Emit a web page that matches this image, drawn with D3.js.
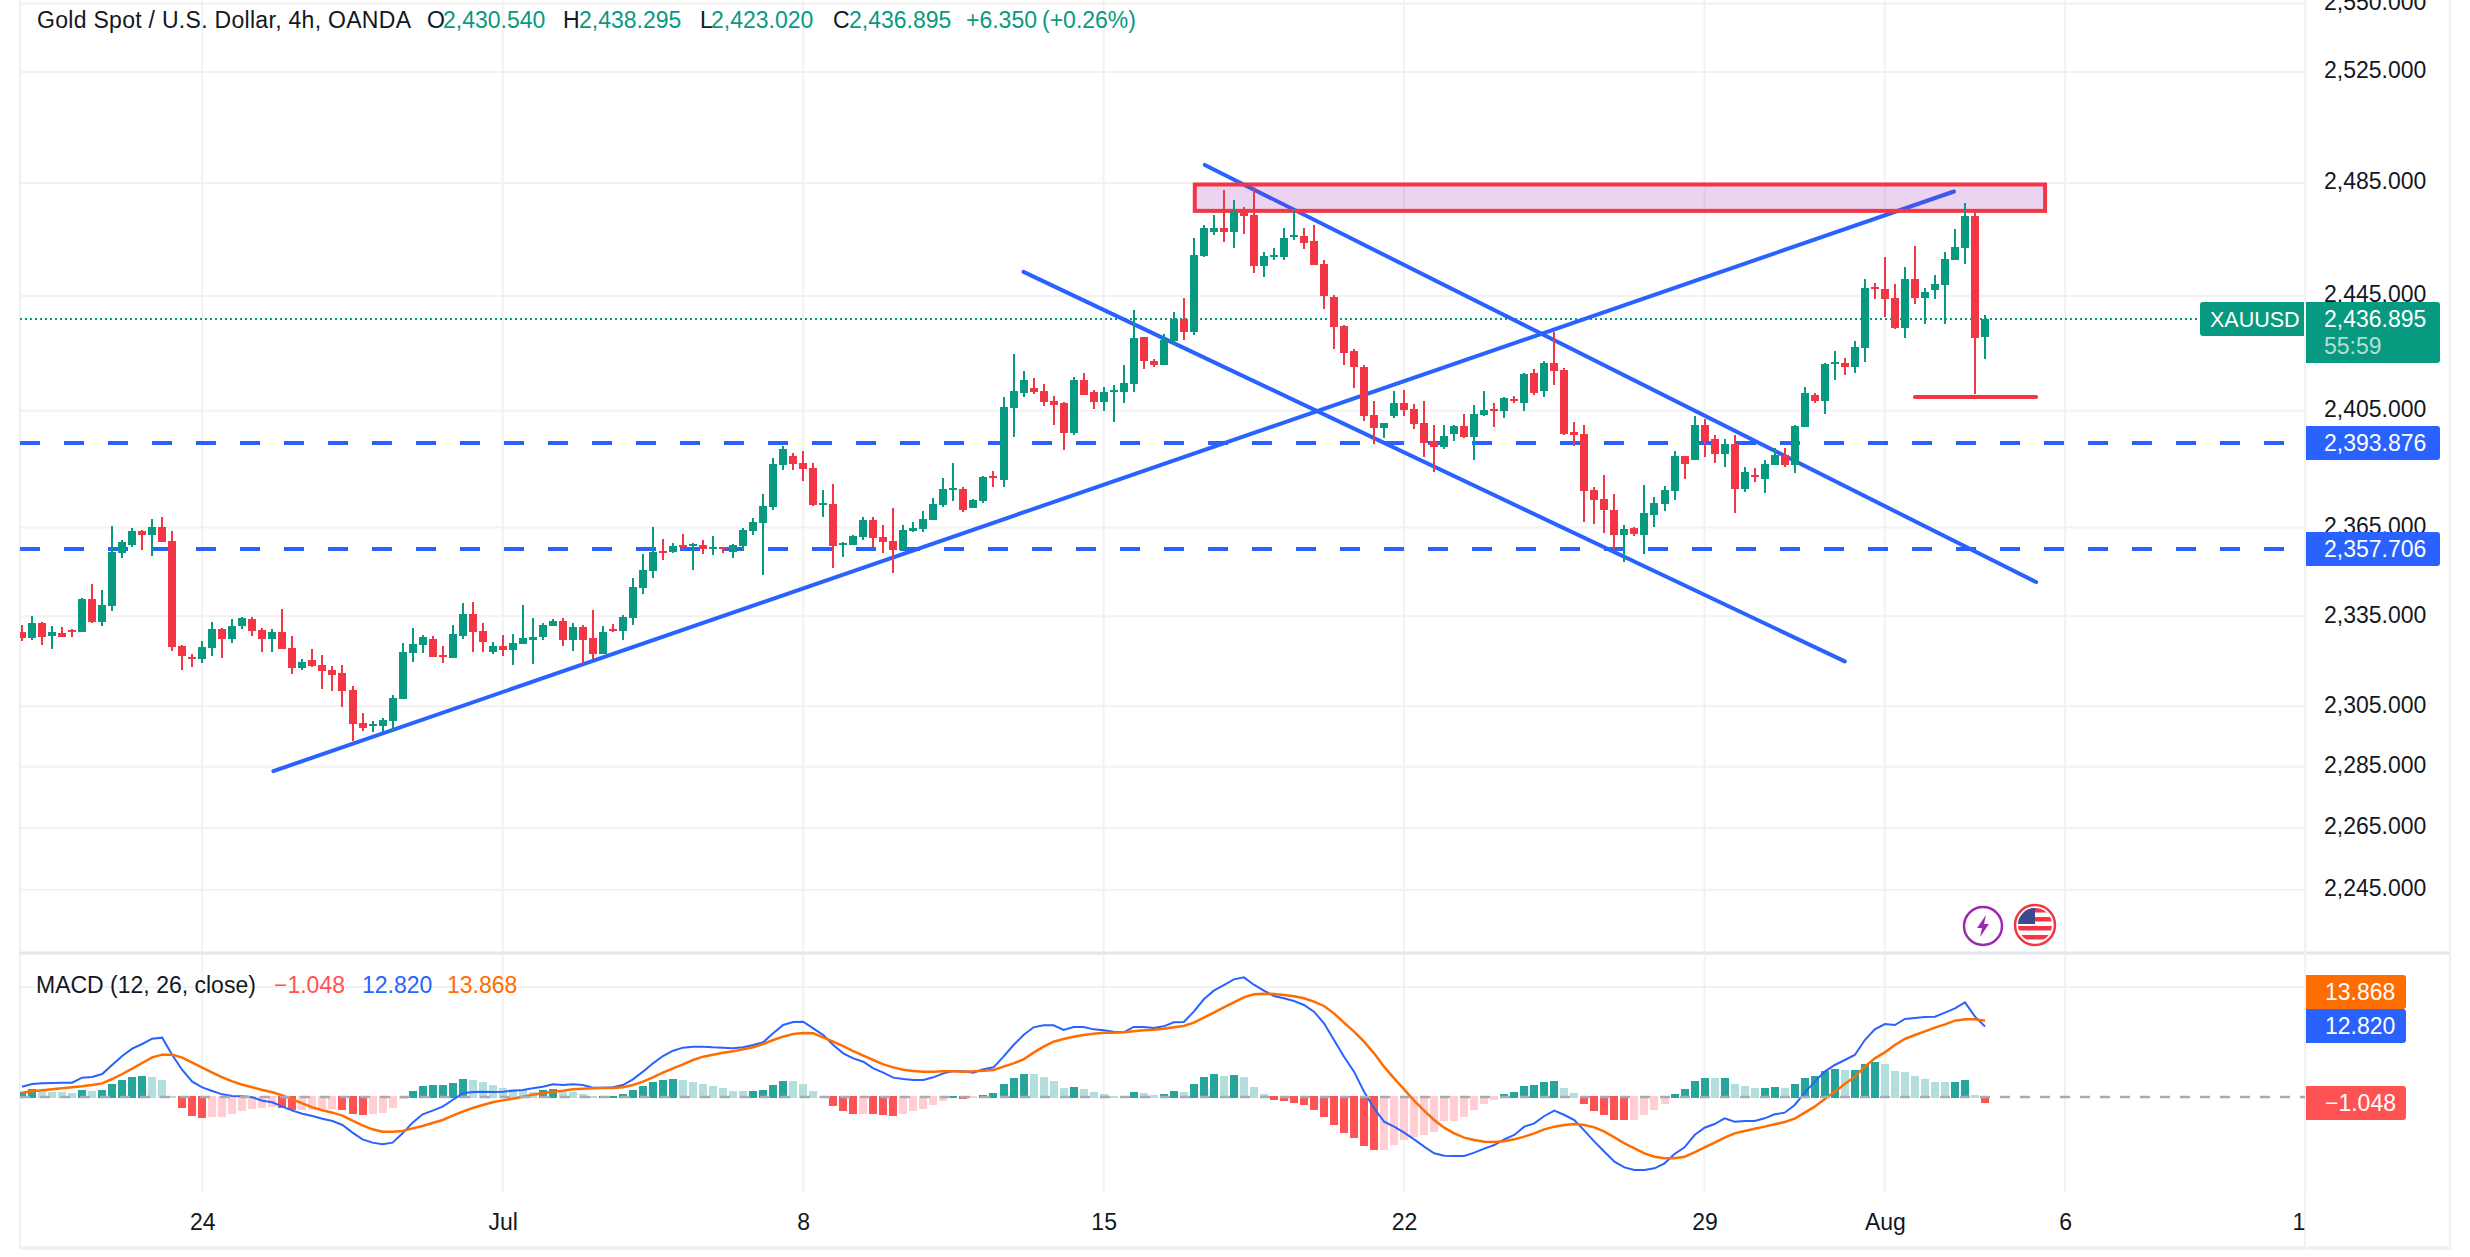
<!DOCTYPE html>
<html><head><meta charset="utf-8">
<script src="https://cdn.jsdelivr.net/npm/d3@7"></script>
<style>html,body{margin:0;padding:0;background:#fff;overflow:hidden}text{font-family:"Liberation Sans",Arial,sans-serif}</style>
</head><body><svg id="c" width="2470" height="1257"></svg>
<script>
const opens=[2329.7,2327.7,2332.7,2328.4,2329.4,2330.4,2329.7,2340.8,2333.1,2338.4,
2356.2,2359.2,2363.9,2362.5,2365.2,2360.5,2325.0,2321.3,2320.7,2324.4,
2330.7,2327.4,2331.7,2334.1,2330.4,2327.4,2329.7,2324.4,2317.6,2320.3,
2318.6,2317.0,2316.0,2310.3,2299.5,2298.5,2298.5,2300.2,2307.3,2322.7,
2325.3,2327.4,2322.0,2321.0,2328.4,2335.7,2330.0,2323.0,2325.0,2323.7,
2325.7,2327.2,2327.9,2331.6,2333.3,2326.9,2331.3,2327.6,2322.5,2330.6,
2329.9,2334.3,2344.4,2350.2,2356.9,2356.6,2358.9,2358.6,2358.9,2357.6,
2358.3,2356.6,2358.6,2363.7,2366.4,2371.8,2386.2,2389.3,2386.9,2385.2,
2372.5,2372.9,2358.9,2358.9,2361.6,2367.4,2361.6,2360.3,2357.2,2363.7,
2364.3,2367.4,2372.5,2377.6,2378,2371.5,2373.9,2382.4,2381.1,2406.1,
2411.3,2413,2411.9,2408.4,2407.7,2397.4,2415.8,2411.6,2408,2411.6,
2411.6,2414.4,2430.5,2422.1,2421,2429.1,2436.8,2432.3,2459.2,2467.7,
2469.1,2467.7,2474.7,2473.7,2455.6,2458.8,2458.8,2465.9,2466.2,2464.5,
2456.3,2444.5,2434.4,2425.6,2420.3,2403.5,2399.1,2403.2,2407.7,2405.6,
2400.8,2394.3,2392.6,2397,2399.8,2396,2403.5,2405.6,2404.9,2409.1,
2407.7,2418,2411.7,2421.5,2419,2397.8,2397.1,2377.6,2374.6,2371.1,
2362.3,2364.7,2362.3,2369.4,2372.9,2377.3,2389.3,2387.9,2400.2,2395.1,
2390,2393.7,2378,2382.8,2381.4,2386.2,2389.6,2386.2,2399.5,2410.6,
2408.5,2421.1,2421.5,2420.1,2426.8,2448.2,2447.5,2444.3,2433.8,2451,
2444.3,2447.1,2448.9,2457.7,2462,2473.3,2430.54];
const highs=[2332,2335.1,2333.1,2331.7,2331.4,2330.7,2341.1,2345.8,2343.8,2365.6,
2360.9,2364.9,2364.2,2367.9,2368.6,2363.9,2325.3,2322.3,2326.7,2333.1,
2331,2334.1,2334.7,2334.7,2331,2330.7,2337.4,2328.4,2320.7,2324,
2322,2318.3,2318.6,2311.6,2302.9,2300.2,2301.2,2308.6,2326,2331,
2328.7,2328.4,2325,2332,2339.4,2339.8,2332.7,2326.4,2328.7,2329,
2338.8,2334.3,2332.6,2334,2334.3,2332.6,2332,2337,2331.6,2332.3,
2335.3,2347.8,2355.9,2365,2361,2359.6,2362.6,2359.6,2360.6,2362,
2358.3,2359.3,2364.7,2368.1,2376.3,2388.6,2393,2390.3,2391,2386.9,
2377.6,2379.7,2359.9,2362.3,2368.7,2368.4,2365.7,2371.5,2365.7,2366.7,
2370.5,2374.9,2381.7,2386.9,2378.7,2374.6,2382.4,2384.1,2409.9,2424.7,
2418.7,2416.5,2414.4,2410.1,2408,2416.8,2418.2,2412.3,2413.3,2414,
2421,2440,2430.5,2422.8,2431.6,2439.3,2444.2,2465.5,2470.1,2473.7,
2482.5,2479,2476.5,2483.7,2460.6,2462,2469.1,2475.4,2469.1,2470.1,
2457.7,2445.4,2434.7,2426.3,2421,2408.4,2400.8,2411.9,2412.3,2407.3,
2408.4,2400.1,2400.1,2400.1,2403.9,2407,2411.9,2407.7,2409.8,2410.1,
2418.1,2419.4,2422.2,2432.4,2419.7,2401.2,2400.2,2378.7,2382.8,2376.3,
2365.7,2365.3,2379.4,2375.2,2379,2391,2389.3,2403.3,2402.3,2396.5,
2395.4,2396.8,2385.5,2385.2,2388.2,2392,2392.3,2400.2,2413.1,2411,
2421.5,2425.7,2423.3,2429.2,2451,2449.6,2458.8,2449.2,2455.3,2462.7,
2447.8,2452.4,2460.6,2468.7,2477.9,2474.7,2438.295];
const lows=[2326.7,2327,2325.3,2324,2328,2328,2329.7,2332.7,2331.7,2336.8,
2354.8,2358.2,2357.2,2355.2,2360.2,2323.3,2317,2318,2319.3,2321.7,
2321,2326,2330.7,2328.4,2323,2323,2324,2315.6,2317,2318,
2310.6,2310,2304.6,2293.5,2296.9,2296.5,2296.5,2296.5,2307.3,2319.7,
2322.7,2321.3,2319.3,2321,2327.4,2323,2323,2322.3,2321.7,2318.6,
2325.7,2319.1,2326.9,2331.6,2324.9,2323.2,2319.1,2320.8,2322.2,2329.6,
2326.9,2332,2342.4,2347.8,2353.9,2356.2,2357.2,2350.5,2355.9,2355.6,
2356.2,2354.5,2356.9,2362.3,2348.8,2370.8,2384.5,2384.5,2380.7,2372.2,
2368.4,2351.2,2354.9,2358.9,2360.6,2358.3,2356.2,2349.5,2356.9,2363.3,
2363.3,2367.4,2371.8,2373.9,2370.1,2371.5,2373.2,2378.7,2378.7,2395.8,
2409.9,2410.9,2406.6,2400.1,2391.6,2396.7,2410.5,2405.6,2404.9,2401.1,
2407.7,2411.6,2419.6,2420,2421,2428,2429.5,2431.2,2458.8,2466.6,
2464.1,2462,2466.9,2453.1,2451.7,2457.7,2457.7,2464.8,2461.6,2456,
2440.3,2426.3,2420.7,2413,2401.5,2393.7,2395.7,2402.5,2403.2,2398.8,
2388.9,2383.8,2391.9,2394.7,2395.7,2388.2,2403.2,2399.4,2402.5,2407.7,
2404.9,2410.6,2409.9,2413.8,2396.8,2393,2366.7,2366,2363,2357.6,
2353.2,2362,2355.9,2365.3,2370.5,2374.2,2381.4,2387.9,2388.9,2386.9,
2385.5,2369.8,2377,2380.4,2376.6,2386.2,2385.8,2383.5,2399.5,2407.8,
2404,2415.5,2417.3,2418,2421.8,2444,2437.6,2433.4,2430.3,2442.2,
2435.2,2444,2435.2,2457.7,2456.3,2410.9,2423.02];
const closes=[2327.7,2332.7,2328,2329.7,2328,2329.7,2340.8,2333.1,2338.8,2356.5,
2360.2,2363.9,2362.5,2365.2,2360.2,2324.7,2321.7,2320.7,2324.7,2330.7,
2327.4,2331.7,2334.4,2330,2327.4,2329.7,2324,2317.6,2319.7,2318.3,
2316.6,2315.3,2310,2299.2,2297.9,2299.1,2300.6,2307.6,2323,2325.7,
2328,2321.3,2321.3,2329,2335.7,2329.7,2326.4,2325,2323.7,2326,
2327.7,2328.2,2332,2333.3,2326.9,2331.3,2327.2,2322.5,2329.6,2329.9,
2334.7,2344.8,2350.5,2356.6,2356.2,2358.6,2358.3,2359.3,2357.6,2358.3,
2357.6,2358.9,2364,2366.7,2372.2,2386.5,2391.7,2386.5,2384.8,2372.5,
2373.2,2358.6,2359.6,2362,2367.4,2361.3,2359.9,2357.2,2364,2364.7,
2367.7,2372.9,2378,2378.3,2371.1,2374.2,2382.1,2382.1,2406.4,2411.7,
2415.5,2411.6,2408,2407,2397.4,2415.8,2410.5,2408,2411.6,2412.3,
2414.7,2430.2,2422.1,2421,2429.5,2436.8,2432.3,2459.5,2469.1,2469.1,
2467.7,2475.1,2473.3,2455.6,2459.2,2459.5,2465.5,2466.6,2463.8,2456,
2444.9,2434,2425.2,2420,2403.2,2399.1,2400.8,2407.7,2405.2,2400.5,
2394,2392.6,2396.4,2399.8,2396,2403.9,2405.2,2404.9,2409.4,2408.4,
2417.9,2411.3,2421.5,2418.7,2397.1,2396.8,2377.3,2374.2,2370.8,2362.3,
2364.3,2362.6,2369.8,2373.2,2377.6,2389.3,2386.5,2400.2,2394.7,2390,
2393.7,2378,2383.8,2382.1,2386.5,2389.6,2386.2,2399.9,2411,2408.5,
2421.1,2421.8,2420.1,2427.1,2447.8,2447.5,2444,2433.8,2451,2444.3,
2446.4,2449.2,2458.1,2462.3,2473.3,2430.3,2436.895];
const histogram=[1,1.45,1.15,.97,.85,.73,1.27,1.15,1.27,2.36,
3.09,3.64,3.82,3.64,3.09,.2,-1.94,-3.4,-3.76,-3.58,
-3.55,-3.09,-2.55,-2.24,-1.94,-1.9,-2,-2.36,-2.3,-2.28,
-2.26,-2.24,-2.36,-3.03,-3.2,-3.15,-2.97,-2,-.3,1.15,
2,2.18,2.2,2.55,3.27,3.09,2.73,2.18,1.64,1.45,
1.27,1,1.27,1.45,.91,.9,.55,.15,.18,.2,
.55,1.27,2,2.73,3.09,3.21,3.09,2.73,2.36,2,
1.64,1.09,1.05,1.09,1.27,2.18,2.91,2.88,2.36,1.09,
.18,-1.64,-2.55,-3.09,-3.03,-3.09,-3.27,-3.45,-3.09,-2.55,
-2.18,-1.45,-.73,.18,-.36,-.2,.36,.73,2.36,3.45,
4.15,4.1,3.64,2.91,1.64,1.82,1.45,.91,.55,.18,
.15,.91,.73,.36,.55,1.09,.91,2.36,3.64,4.18,
3.9,4,3.64,1.82,.55,-.55,-.73,-1.09,-1.45,-2.36,
-3.64,-5.09,-6.55,-7.45,-8.91,-9.64,-9.6,-8.73,-7.82,-7.27,
-6.91,-6.36,-4.36,-4.3,-3.64,-2.36,-1.27,-.55,.55,.91,
2,2.18,2.73,2.91,1.64,.73,-1.27,-2.55,-3.27,-4.18,
-4.2,-4.15,-3.27,-2.36,-1.27,.55,1.45,2.91,3.45,3.4,
3.45,2.36,2,1.64,1.66,1.82,1.64,2.36,3.45,3.82,
4.73,5.09,4.91,4.95,6,6.36,6,4.73,4.55,3.82,
3.27,2.73,2.7,2.73,3.09,.36,-1.048];
const macdLine=[1.88,2.36,2.48,2.55,2.61,2.61,3.52,3.64,4.18,5.82,
7.45,8.79,9.64,10.61,10.79,7.64,4.91,2.79,1.76,1.09,
.48,.18,.12,-.06,-.67,-.97,-1.76,-2.48,-3.03,-3.45,
-3.94,-4.36,-5.09,-6.48,-7.7,-8.3,-8.61,-8.3,-6.61,-4.67,
-3.15,-2.48,-1.76,-.55,.67,.91,.97,.91,.97,1.15,
1.27,1.58,1.88,2.3,2.18,2.3,2.18,1.7,1.7,1.76,
2.18,3.21,4.61,6.12,7.45,8.42,8.97,9.15,9.15,9.03,
8.97,8.85,9.03,9.45,9.94,11.58,13.09,13.64,13.7,12.48,
11.27,9.45,7.94,7.03,6.42,5.21,4.42,3.52,3.27,3.09,
3.09,3.58,4.3,4.73,4.67,4.42,5.03,5.39,7.33,9.45,
11.27,12.67,13.03,13.03,12.18,12.73,12.73,12.3,12.12,11.88,
11.76,12.73,12.73,12.55,12.85,13.58,13.64,15.52,17.76,19.33,
20.36,21.39,21.76,20.42,19.33,18.36,17.94,17.45,16.73,15.52,
13.39,10.36,7.33,4.61,.97,-2.06,-4.48,-5.39,-6.48,-7.7,
-9.03,-10.24,-10.67,-10.73,-10.73,-10.12,-9.39,-8.73,-7.7,-6.91,
-5.39,-4.79,-3.45,-2.48,-3.27,-4.18,-6.12,-8.12,-9.94,-11.76,
-12.79,-13.27,-13.27,-12.97,-12.06,-10.36,-9.15,-6.91,-5.58,-4.91,
-3.88,-4.48,-4.36,-4.36,-3.88,-3.15,-2.85,-1.45,.79,2.79,
4.61,5.82,6.73,7.64,10.36,12.3,13.27,13.09,14.18,14.36,
14.55,14.61,15.33,16.12,17.21,14.61,12.82];
const signalLine=[.79,1.03,1.21,1.39,1.58,1.76,1.94,2.18,2.48,3.27,
4.18,5.15,6.18,7.21,7.7,7.7,7.15,6.24,5.33,4.42,
3.58,2.85,2.24,1.76,1.27,.85,.3,-.42,-1.15,-1.88,
-2.42,-2.85,-3.39,-4.3,-5.15,-5.88,-6.3,-6.3,-6.18,-5.7,
-5.27,-4.73,-4.18,-3.39,-2.67,-2,-1.45,-.97,-.61,-.3,
.06,.42,.67,.97,1.15,1.39,1.52,1.58,1.64,1.64,
1.76,2.18,2.79,3.58,4.42,5.21,5.94,6.73,7.33,7.7,
8.06,8.3,8.67,9.03,9.64,10.36,10.97,11.45,11.64,11.58,
10.85,10.06,9.27,8.36,7.52,6.73,5.94,5.39,4.97,4.73,
4.61,4.61,4.67,4.67,4.61,4.67,4.79,4.91,5.52,6.12,
6.85,8.06,9.15,10.06,10.55,10.97,11.27,11.52,11.7,11.7,
11.76,11.94,12.12,12.24,12.42,12.67,12.91,13.52,14.42,15.33,
16.3,17.21,18.12,18.67,18.79,18.73,18.55,18.3,17.94,17.33,
16.55,15.21,13.52,11.88,10.06,7.94,5.52,3.39,1.39,-.67,
-2.48,-4.18,-5.58,-6.61,-7.39,-7.82,-8.12,-8.18,-8.06,-7.7,
-7.21,-6.61,-5.88,-5.39,-5.09,-4.91,-5.09,-5.52,-6.3,-7.33,
-8.42,-9.33,-10.24,-10.85,-11.15,-11.15,-10.85,-10.06,-9.15,-8.3,
-7.39,-6.61,-6.18,-5.76,-5.39,-4.97,-4.55,-3.94,-2.85,-1.76,
-.36,.97,2.36,3.7,5.52,7.03,8.12,9.45,10.55,11.27,
11.94,12.61,13.21,13.88,14.12,14.12,13.868];
const priceTicks=[2550,2525,2485,2445,2405,2365,2335,2305,2285,2265,2245];
const timeTickBars=[18,48,78,108,138,168,186,204,228];
const timeTickLabels=["24","Jul","8","15","22","29","Aug","6","1"];
const macdGrid=[20];
const levelPrices=[2393.876,2357.706];
const trendStarts=[[25.1,2283.6],[100,2453.5],[118.1,2491.5]];
const trendEnds=[[192.9,2482.0],[182,2319.9],[201.1,2346.5]];
const zoneBars=[117.1,202.0];
const zonePrices=[2484.5,2475.1];
const lowMark=[189,201.1,2409.8];
const lastPrice=2436.895;

const GREEN="#089981",RED="#f23645",BLUE="#2962ff",ORANGE="#ff6d00",GRID="#f2f2f2",INK="#131722";
const svg=d3.select("#c");
const L=20,R=2305,W=R-L;
const x=d3.scaleLinear().domain([0,196]).range([22,1985]);
const yP=d3.scaleLog().domain([2265,2525]).range([828,72]);
const yM=d3.scaleLinear().domain([0,20]).range([1097,987]);
const defs=svg.append("defs");
defs.append("clipPath").attr("id","pp").append("rect").attr("x",L).attr("y",0).attr("width",W).attr("height",951);
defs.append("clipPath").attr("id","mp").append("rect").attr("x",L).attr("y",955).attr("width",W).attr("height",237);

// grid
const g=svg.append("g").attr("stroke",GRID).attr("stroke-width",2);
priceTicks.forEach(p=>g.append("line").attr("x1",L).attr("x2",R).attr("y1",yP(p)).attr("y2",yP(p)));
macdGrid.forEach(v=>g.append("line").attr("x1",L).attr("x2",R).attr("y1",yM(v)).attr("y2",yM(v)));
timeTickBars.forEach(b=>{
  g.append("line").attr("x1",x(b)).attr("x2",x(b)).attr("y1",0).attr("y2",951);
  g.append("line").attr("x1",x(b)).attr("x2",x(b)).attr("y1",955).attr("y2",1192);
});
// frame
const fr=svg.append("g").attr("stroke","#eef0f5");
fr.append("line").attr("x1",L).attr("x2",L).attr("y1",0).attr("y2",1249).attr("stroke-width",2);
fr.append("line").attr("x1",2450).attr("x2",2450).attr("y1",0).attr("y2",1249).attr("stroke-width",2);
fr.append("line").attr("x1",L).attr("x2",2450).attr("y1",1248).attr("y2",1248).attr("stroke-width",3);
fr.append("line").attr("x1",L).attr("x2",2450).attr("y1",953).attr("y2",953).attr("stroke-width",3).attr("stroke","#e3e6ec");
svg.append("line").attr("x1",R).attr("x2",R).attr("y1",0).attr("y2",1249).attr("stroke",GRID).attr("stroke-width",2);

// price pane
const pp=svg.append("g").attr("clip-path","url(#pp)");
pp.append("line").attr("x1",L).attr("x2",2200).attr("y1",yP(lastPrice)).attr("y2",yP(lastPrice))
  .attr("stroke",GREEN).attr("stroke-width",2).attr("stroke-dasharray","2 3");
levelPrices.forEach(p=>pp.append("line").attr("x1",L).attr("x2",2284).attr("y1",yP(p)).attr("y2",yP(p))
  .attr("stroke",BLUE).attr("stroke-width",4).attr("stroke-dasharray","20 24"));
trendStarts.forEach((s,k)=>pp.append("line").attr("x1",x(s[0])).attr("y1",yP(s[1])).attr("x2",x(trendEnds[k][0])).attr("y2",yP(trendEnds[k][1]))
  .attr("stroke",BLUE).attr("stroke-width",4).attr("stroke-linecap","round"));
pp.append("line").attr("x1",x(lowMark[0])).attr("x2",x(lowMark[1])).attr("y1",yP(lowMark[2])).attr("y2",yP(lowMark[2]))
  .attr("stroke",RED).attr("stroke-width",4).attr("stroke-linecap","round");
pp.append("rect").attr("x",x(zoneBars[0])).attr("y",yP(zonePrices[0]))
  .attr("width",x(zoneBars[1])-x(zoneBars[0])).attr("height",yP(zonePrices[1])-yP(zonePrices[0]))
  .attr("fill","rgba(156,39,176,0.2)").attr("stroke",RED).attr("stroke-width",4);
const candles=pp.append("g").attr("shape-rendering","crispEdges");
const idx=d3.range(opens.length);
candles.selectAll("line").data(idx).join("line")
  .attr("x1",i=>Math.round(x(i))).attr("x2",i=>Math.round(x(i)))
  .attr("y1",i=>yP(highs[i])).attr("y2",i=>yP(lows[i]))
  .attr("stroke",i=>closes[i]>=opens[i]?GREEN:RED).attr("stroke-width",2);
candles.selectAll("rect").data(idx).join("rect")
  .attr("x",i=>Math.round(x(i))-4).attr("width",8)
  .attr("y",i=>yP(Math.max(opens[i],closes[i])))
  .attr("height",i=>Math.max(2,Math.abs(yP(opens[i])-yP(closes[i]))))
  .attr("fill",i=>closes[i]>=opens[i]?GREEN:RED);

// macd pane
const mp=svg.append("g").attr("clip-path","url(#mp)");
function barColor(i){
  const v=histogram[i],pv=i?histogram[i-1]:0;
  if(v>=0) return v>=pv?"#26a69a":"#b2dfdb";
  return v<=pv?"#ff5252":"#ffcdd2";
}
mp.append("g").attr("shape-rendering","crispEdges").selectAll("rect").data(idx).join("rect")
  .attr("x",i=>Math.round(x(i))-4).attr("width",8)
  .attr("y",i=>histogram[i]>=0?yM(histogram[i]):yM(0)-1)
  .attr("height",i=>Math.abs(yM(histogram[i])-yM(0))+1)
  .attr("fill",barColor);
svg.append("line").attr("x1",L).attr("x2",R).attr("y1",yM(0)).attr("y2",yM(0))
  .attr("stroke","#a8abb3").attr("stroke-width",2.5).attr("stroke-dasharray","10 10");
const ln=d3.line().x((d,i)=>x(i)).y(d=>yM(d));
mp.append("path").attr("d",ln(macdLine)).attr("fill","none").attr("stroke",BLUE).attr("stroke-width",2);
mp.append("path").attr("d",ln(signalLine)).attr("fill","none").attr("stroke",ORANGE).attr("stroke-width",2.5);

// axes
const FS=23;
const pa=svg.append("g").attr("transform","translate(2324,-1.5)")
  .call(d3.axisRight(yP).tickValues(priceTicks).tickFormat(d3.format(",.3f")).tickSize(0).tickPadding(0));
pa.select(".domain").remove();
pa.selectAll("text").attr("font-size",FS).attr("fill",INK).attr("font-family",'"Liberation Sans",Arial,sans-serif');
const ta=svg.append("g").attr("transform","translate(0,1192)")
  .call(d3.axisBottom(x).tickValues(timeTickBars).tickFormat((d,i)=>timeTickLabels[i]).tickSize(0).tickPadding(0));
ta.select(".domain").remove();
ta.selectAll("text").attr("font-size",FS).attr("fill",INK).attr("dy",null).attr("y",38).attr("font-family",'"Liberation Sans",Arial,sans-serif');
ta.selectAll("text").filter((d,i)=>i===8).attr("dx",-7);

// boxes
function box(px,py,w,h,fill){svg.append("path").attr("fill",fill).attr("d",
  `M${px},${py}H${px+w-3}Q${px+w},${py} ${px+w},${py+3}V${py+h-3}Q${px+w},${py+h} ${px+w-3},${py+h}H${px}Z`);}
function t(px,py,s,fill,size){return svg.append("text").attr("x",px).attr("y",py).attr("font-size",size||FS).attr("fill",fill).text(s);}
svg.append("path").attr("fill",GREEN).attr("d","M2203,302H2304V336H2203Q2200,336 2200,333V305Q2200,302 2203,302Z");
t(2210,327,"XAUUSD","#fff",21.5);
box(2306,302,134,61,GREEN);
t(2324,327,"2,436.895","#fff");
t(2324,354,"55:59","rgba(255,255,255,0.7)");
levelPrices.forEach(p=>{
  const cy=yP(p);box(2306,cy-17,134,34,BLUE);t(2324,cy+8,d3.format(",.3f")(p),"#fff");
});
box(2306,975,100,34,ORANGE);t(2325,1000,"13.868","#fff");
box(2306,1009,100,34,BLUE);t(2325,1034,"12.820","#fff");
box(2306,1086,100,34,"#ff5252");t(2325,1111,"\u22121.048","#fff");

// legends
t(37,28,"Gold Spot / U.S. Dollar, 4h, OANDA",INK).attr("textLength",374).attr("lengthAdjust","spacing");
[[427,"O",INK],[443,"2,430.540",GREEN],[563,"H",INK],[579,"2,438.295",GREEN],[700,"L",INK],[711,"2,423.020",GREEN],
 [833,"C",INK],[849,"2,436.895",GREEN],[966,"+6.350",GREEN],[1042,"(+0.26%)",GREEN]].forEach(a=>t(a[0],28,a[1],a[2]));
t(36,993,"MACD (12, 26, close)",INK);
t(274,993,"\u22121.048","#ff5252");
t(362,993,"12.820",BLUE);
t(447,993,"13.868",ORANGE);

// icons
const ic1=svg.append("g").attr("transform","translate(1983,926)");
ic1.append("circle").attr("r",19).attr("fill","#fff").attr("stroke","#9c27b0").attr("stroke-width",2.5);
ic1.append("path").attr("d","M3,-11L-6,2H-1L-3,11L6,-2H1Z").attr("fill","#9c27b0");
const ic2=svg.append("g").attr("transform","translate(2035,925)");
defs.append("clipPath").attr("id","fl").append("circle").attr("r",17);
ic2.append("circle").attr("r",20).attr("fill","#fff").attr("stroke",RED).attr("stroke-width",2.5);
const f=ic2.append("g").attr("clip-path","url(#fl)");
f.append("rect").attr("x",-17).attr("y",-17).attr("width",34).attr("height",34).attr("fill","#fff");
d3.range(-17,17,9).forEach(v=>f.append("rect").attr("x",-17).attr("y",v).attr("width",34).attr("height",4.5).attr("fill",RED));
f.append("rect").attr("x",-17).attr("y",-17).attr("width",17).attr("height",16).attr("fill","#3c4a8f");
</script></body></html>
